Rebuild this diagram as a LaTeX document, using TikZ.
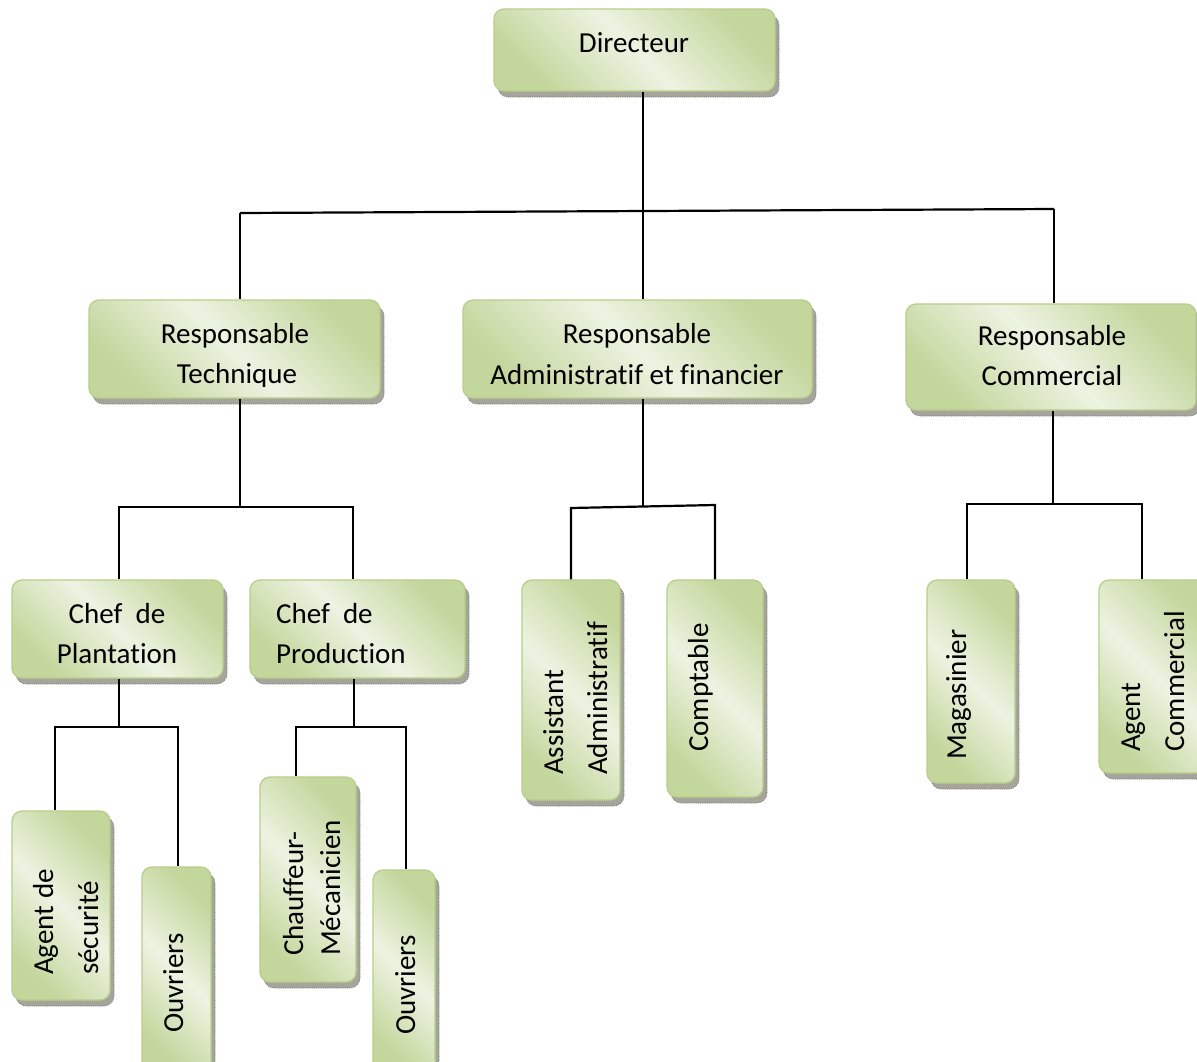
\documentclass[tikz,border=0pt]{standalone}
\usepackage{fontspec}
\setmainfont{Carlito}[Ligatures={NoCommon,NoRare,NoContextual}]
\usetikzlibrary{shadows}
\definecolor{gdark}{RGB}{195,214,155}
\definecolor{glight}{RGB}{237,243,226}
\definecolor{gline}{RGB}{184,206,138}
\definecolor{shd}{RGB}{165,165,155}
\begin{document}
\begin{tikzpicture}[x=1pt,y=-1pt,
  box/.style={draw=gline, line width=1.3pt, rounded corners=10pt, inner sep=0pt,
     top color=gdark, bottom color=gdark, middle color=glight, shading angle=-45,
     drop shadow={shadow xshift=4pt, shadow yshift=-6pt, fill=shd, opacity=1,
       draw=black!55, dash pattern=on 1pt off 1.2pt, line width=0.6pt}},
  txt/.style={inner sep=0pt, anchor=base, font=\fontsize{29}{40}\selectfont},
  ltxt/.style={txt, anchor=base west},
  rtxt/.style={txt, anchor=base west, rotate=90},
  conn/.style={line width=2.2pt, black}]
\clip (0,0) rectangle (1197,1061);
\fill[white] (0,0) rectangle (1197,1061);

% boxes
\node[box, minimum width=281pt, minimum height=82pt]  (dir)    at (634.5,50) {};
\node[box, minimum width=291pt, minimum height=98pt]  (tech)   at (234.5,349) {};
\node[box, minimum width=349pt, minimum height=98pt]  (adm)    at (637.5,349) {};
\node[box, minimum width=290pt, minimum height=106pt] (comm)   at (1051,357) {};
\node[box, minimum width=211pt, minimum height=98pt]  (plant)  at (117.5,629) {};
\node[box, minimum width=215pt, minimum height=98pt]  (prod)   at (357.5,629) {};
\node[box, minimum width=98pt,  minimum height=189pt] (agsec)  at (61,905.5) {};
\node[box, minimum width=69pt,  minimum height=208pt] (ouvA)   at (176.5,971) {};
\node[box, minimum width=96pt,  minimum height=205pt] (chauf)  at (308,879.5) {};
\node[box, minimum width=62pt,  minimum height=205pt] (ouvB)   at (404,972.5) {};
\node[box, minimum width=98pt,  minimum height=220pt] (assist) at (571,690) {};
\node[box, minimum width=96pt,  minimum height=217pt] (compt)  at (715,688.5) {};
\node[box, minimum width=88pt,  minimum height=203pt] (mag)    at (971,681.5) {};
\node[box, minimum width=111pt, minimum height=193pt] (agcom)  at (1154.5,676.5) {};

% texts
\node[txt] (dirT) at (634,52) {Directeur};
\node[txt] (techT1) at (235,343) {Responsable};
\begin{scope}
\clip (0,0) rectangle (1197,386);
\node[txt] (techT2) at (237,383) {Technique};
\end{scope}
\node[txt] (admT1) at (637,343) {Responsable};
\node[txt] (admT2) at (637,384) {Administratif et financier};
\node[txt] (commT1) at (1052,345) {Responsable};
\node[txt] (commT2) at (1052,385) {Commercial};
\node[txt] (plantT1) at (117,623) {Chef\ \ de};
\node[txt] (plantT2) at (117,663) {Plantation};
\node[ltxt] (prodT1) at (276,623) {Chef\ \ de};
\node[ltxt] (prodT2) at (276,663) {Production};
\node[rtxt] (agsecT1) at (53,975) {Agent de};
\node[rtxt] (agsecT2) at (98,975) {sécurité};
\node[rtxt] (ouvAT) at (183,1033) {Ouvriers};
\node[rtxt] (chaufT1) at (303,956) {Chauffeur-};
\node[rtxt] (chaufT2) at (340,956) {Mécanicien};
\node[rtxt] (ouvBT) at (415,1035) {Ouvriers};
\node[rtxt] (assistT1) at (563,775) {Assistant};
\node[rtxt] (assistT2) at (607,775) {Administratif};
\node[rtxt] (comptT) at (708,752) {Comptable};
\node[rtxt] (magT) at (966,760) {Magasinier};
\node[rtxt] (agcomT1) at (1140,752) {Agent};
\node[rtxt] (agcomT2) at (1184,752) {Commercial};

% junction coordinates
\coordinate (bL) at (240,213);
\coordinate (bR) at (1054,209);
\coordinate (bM) at (643,211.5);
\coordinate (t0) at (240,507);
\coordinate (tL) at (119,507);
\coordinate (tR) at (353,507);
\coordinate (a0) at (643,506.5);
\coordinate (aL) at (571,508);
\coordinate (aR) at (715,505);
\coordinate (c0) at (1053,504);
\coordinate (cL) at (967,504);
\coordinate (cR) at (1142,504);
\coordinate (p0) at (119,727);
\coordinate (pL) at (55,727);
\coordinate (pR) at (178,727);
\coordinate (q0) at (354,727);
\coordinate (qL) at (296,727);
\coordinate (qR) at (406,727);

% connectors
\draw[conn] (bM |- dir.south) -- (bM |- adm.north);
\draw[conn] (bL) -- (bR);
\draw[conn] (bL) -- (bL |- tech.north);
\draw[conn] (bR) -- (bR |- comm.north);

\draw[conn] (t0 |- tech.south) -- (t0);
\draw[conn] (tL |- plant.north) -- (tL) -- (tR) -- (tR |- prod.north);

\draw[conn] (a0 |- adm.south) -- (a0);
\draw[conn] (aL |- assist.north) -- (aL) -- (aR) -- (aR |- compt.north);

\draw[conn] (c0 |- comm.south) -- (c0);
\draw[conn] (cL |- mag.north) -- (cL) -- (cR) -- (cR |- agcom.north);

\draw[conn] (p0 |- plant.south) -- (p0);
\draw[conn] (pL |- agsec.north) -- (pL) -- (pR) -- (pR |- ouvA.north);

\draw[conn] (q0 |- prod.south) -- (q0);
\draw[conn] (qL |- chauf.north) -- (qL) -- (qR) -- (qR |- ouvB.north);
\end{tikzpicture}
\end{document}
